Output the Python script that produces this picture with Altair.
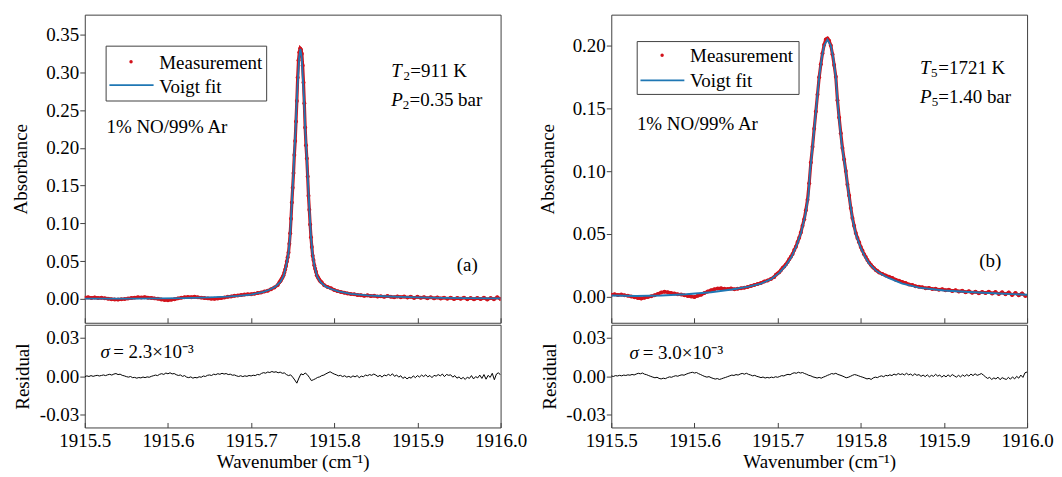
import altair as alt
import pandas as pd

FONT = "'Liberation Serif', 'Times New Roman', Times, serif"
RED = "#d2121b"
BLUE = "#1f77b4"
BOX = "#404040"

X_DOMAIN = [1915.5, 1916.0]
X_TICKS = [1915.5, 1915.6, 1915.7, 1915.8, 1915.9, 1916.0]
ABS_TICKS_A = [0.00, 0.05, 0.10, 0.15, 0.20, 0.25, 0.30, 0.35]
ABS_TICKS_B = [0.00, 0.05, 0.10, 0.15, 0.20]
RES_TICKS = [-0.03, 0.00, 0.03]
ABS_DOMAIN_A = [-0.0317, 0.3764]
ABS_DOMAIN_B = [-0.0207, 0.2247]
RES_DOMAIN = [-0.040, 0.040]

# ---------------- panel (a) ----------------
FIT_A_X = [1915.500, 1915.530, 1915.560, 1915.590, 1915.620, 1915.650, 1915.670, 1915.685,
           1915.700, 1915.714, 1915.722, 1915.729, 1915.735, 1915.739, 1915.742, 1915.745,
           1915.747, 1915.749, 1915.751, 1915.752, 1915.7533, 1915.7548, 1915.7563, 1915.7578,
           1915.7593, 1915.7608, 1915.7623, 1915.7638, 1915.7653, 1915.7666, 1915.7678, 1915.7696,
           1915.7718, 1915.7738, 1915.7763, 1915.7793, 1915.7833, 1915.7893, 1915.7963, 1915.805,
           1915.820, 1915.840, 1915.860, 1915.880, 1915.900, 1915.930, 1915.960, 1916.000]
FIT_A_Y = [0.0004, 0.0002, 0.0003, 0.0006, 0.0010, 0.0018, 0.0028, 0.0040,
           0.0057, 0.0090, 0.0120, 0.0160, 0.0220, 0.0300, 0.0430, 0.0600,
           0.0850, 0.1290, 0.1680, 0.1950, 0.2200, 0.2610, 0.2900, 0.3200,
           0.3310, 0.3200, 0.2900, 0.2610, 0.2200, 0.1950, 0.1680, 0.1290,
           0.0850, 0.0600, 0.0430, 0.0300, 0.0225, 0.0165, 0.0130, 0.0098,
           0.0066, 0.0046, 0.0034, 0.0026, 0.0020, 0.0014, 0.0010, 0.0007]

MEAS_A_LEFT = [0.0015, 0.0020, 0.0012, 0.0018, 0.0010, 0.0014, 0.0008, 0.0002, -0.0004,
               -0.0008, -0.0010, -0.0006, -0.0002, 0.0004, 0.0010, 0.0016, 0.0020, 0.0018,
               0.0022, 0.0015, 0.0012, 0.0006, 0.0001, -0.0008, -0.0014, -0.0018, -0.0012,
               -0.0004, 0.0006, 0.0014, 0.0020, 0.0024, 0.0022, 0.0026, 0.0020, 0.0016,
               0.0010, 0.0006, 0.0002, 0.0000, 0.0004, 0.0010, 0.0018, 0.0026, 0.0032,
               0.0040, 0.0044, 0.0050, 0.0056, 0.0060, 0.0062, 0.0068, 0.0076, 0.0084,
               0.0096, 0.0108, 0.0128, 0.0150, 0.0182]
MEAS_A_CORE = [0.0218, 0.0232, 0.0250, 0.0268, 0.0290, 0.0312, 0.0348, 0.0390, 0.0436, 0.0494,
               0.0552, 0.0615, 0.0728, 0.0868, 0.1060, 0.1275, 0.1470, 0.1665, 0.1905, 0.2090,
               0.2350, 0.2620, 0.2930, 0.3160, 0.3265, 0.3315, 0.3300, 0.3245, 0.3090, 0.2865,
               0.2590, 0.2270, 0.2035, 0.1860, 0.1620, 0.1365, 0.1180, 0.0985, 0.0815, 0.0688,
               0.0572, 0.0514, 0.0446, 0.0398, 0.0360, 0.0312, 0.0292, 0.0274, 0.0254, 0.0236,
               0.0226, 0.0216]
MEAS_A_RIGHT = [0.0180, 0.0156, 0.0140, 0.0118, 0.0102, 0.0090, 0.0082, 0.0072, 0.0064,
                0.0060, 0.0050, 0.0048, 0.0040, 0.0046, 0.0036, 0.0040, 0.0030, 0.0034,
                0.0026, 0.0036, 0.0028, 0.0020, 0.0032, 0.0022, 0.0030, 0.0016, 0.0028,
                0.0012, 0.0026, 0.0014, 0.0022, 0.0008, 0.0020, 0.0006, 0.0018, 0.0004,
                0.0016, 0.0002, 0.0014, -0.0002, 0.0012, 0.0000, 0.0016, -0.0004, 0.0010,
                -0.0006, 0.0012, -0.0002, 0.0014, -0.0008, 0.0010, -0.0004, 0.0020, -0.0002]

# residual (units of 1e-3), sampled every 0.0025 cm-1 from 1915.5
RES_A = [-0.5, 0.2, -0.3, 0.4, -0.2, 0.3, 0.6, 0.1, 0.5, 0.9,
         0.4, 1.0, 1.4, 0.8, 1.6, 2.0, 1.2, 1.5, 0.6, 0.2,
         -0.4, -0.8, -0.3, -1.2, -1.0, -1.6, -1.1, -1.4, -0.7, -1.2,
         -0.6, -0.9, -0.2, 0.3, 0.8, 0.4, 1.4, 1.9, 1.3, 2.4,
         1.8, 2.6, 1.7, 2.0, 1.1, 0.5, 0.9, -0.2, 0.4, -0.8,
         -1.2, -0.6, -1.6, -1.0, -1.4, -0.5, -0.9, 0.1, -0.3, 0.6,
         0.9, 0.5, 1.5, 1.1, 1.9, 1.4, 2.2, 1.6, 2.0, 1.2,
         1.5, 0.7, 0.9, 0.2, -0.3, 0.3, -0.4, 0.2, -0.2, 0.5,
         0.1, 0.7, 0.4, 1.3, 1.0, 2.1, 2.7, 2.3, 3.2, 2.8,
         3.6, 3.0, 3.4, 2.6, 3.1, 2.2, 2.5, 1.2, 0.4, 1.0,
         -0.8, -3.0, -5.5, -1.5, 1.8, 1.0, 2.4, 1.2, -1.0, -3.5,
         -2.8, -2.0, -1.0, -0.6, 0.4, 0.8, 1.8, 2.6, 3.4, 2.4,
         1.6, 1.0, 0.2, 0.6, -0.4, 0.3, -0.8, -0.2, -1.0, 0.2,
         -0.6, 0.4, -1.2, 0.0, -0.5, 0.8, 0.3, 1.2, 0.6, 1.6,
         0.8, -0.4, 0.6, -0.8, 0.9, 0.2, 1.4, 0.4, 1.8, -0.2,
         0.9, -0.8, 0.3, -1.8, -0.6, -2.2, -0.9, -1.6, 0.2, -1.2,
         0.4, -0.7, 0.8, -0.3, 1.0, -0.6, 0.5, -1.2, 0.6, 0.0,
         1.2, 0.2, 1.6, -0.4, 1.3, 0.6, 1.0, -0.8, 0.4, -1.6,
         -0.6, -2.2, -1.0, -2.6, -0.8, -1.8, 0.4, -2.2, -0.4, -1.4,
         0.8, -1.8, 1.2, -2.4, 0.6, -1.0, 2.2, -2.8, 1.6, 2.6,
         0.8]

# ---------------- panel (b) ----------------
FIT_B_X = [1915.500, 1915.530, 1915.560, 1915.590, 1915.620, 1915.645, 1915.665, 1915.680,
           1915.692, 1915.702, 1915.710, 1915.717, 1915.723, 1915.728, 1915.733, 1915.737,
           1915.739, 1915.742, 1915.7464, 1915.750, 1915.753, 1915.756, 1915.760, 1915.764,
           1915.767, 1915.770, 1915.7728, 1915.777, 1915.782, 1915.7855, 1915.790, 1915.794,
           1915.800, 1915.805, 1915.810, 1915.818, 1915.826, 1915.834, 1915.850, 1915.870,
           1915.900, 1915.930, 1915.960, 1916.000]
FIT_B_Y = [0.0010, 0.0006, 0.0010, 0.0020, 0.0036, 0.0058, 0.0080, 0.0105,
           0.0140, 0.0190, 0.0250, 0.0320, 0.0410, 0.0505, 0.0640, 0.0800,
           0.1000, 0.1190, 0.1500, 0.1750, 0.1900, 0.2000, 0.2048, 0.2000,
           0.1900, 0.1750, 0.1500, 0.1220, 0.1000, 0.0820, 0.0620, 0.0500,
           0.0390, 0.0320, 0.0265, 0.0210, 0.0175, 0.0148, 0.0105, 0.0072,
           0.0050, 0.0038, 0.0028, 0.0016]

MEAS_B_LEFT = [0.0016, 0.0020, 0.0014, 0.0018, 0.0012, 0.0008, 0.0002, -0.0004, -0.0010,
               -0.0014, -0.0008, -0.0002, 0.0004, 0.0012, 0.0022, 0.0034, 0.0040, 0.0036,
               0.0030, 0.0026, 0.0020, 0.0018, 0.0012, 0.0006, 0.0002, -0.0002, 0.0008,
               0.0016, 0.0030, 0.0042, 0.0052, 0.0060, 0.0066, 0.0068, 0.0064, 0.0062,
               0.0066, 0.0060, 0.0064, 0.0068, 0.0072, 0.0078, 0.0086, 0.0094, 0.0102,
               0.0110, 0.0122, 0.0130, 0.0142, 0.0158]
MEAS_B_CORE = [0.0176, 0.0186, 0.0196, 0.0212, 0.0230, 0.0242, 0.0258, 0.0276, 0.0298, 0.0318,
               0.0340, 0.0372, 0.0398, 0.0436, 0.0470, 0.0512, 0.0566, 0.0618, 0.0690, 0.0772,
               0.0905, 0.1070, 0.1195, 0.1338, 0.1475, 0.1612, 0.1748, 0.1852, 0.1940, 0.2008,
               0.2050, 0.2058, 0.2040, 0.2002, 0.1932, 0.1846, 0.1752, 0.1565, 0.1428, 0.1302,
               0.1185, 0.1094, 0.1002, 0.0895, 0.0806, 0.0708, 0.0628, 0.0566, 0.0508, 0.0468,
               0.0434, 0.0396, 0.0368, 0.0338, 0.0316, 0.0292, 0.0272, 0.0256, 0.0240, 0.0228,
               0.0214, 0.0206, 0.0194]
MEAS_B_RIGHT = [0.0182, 0.0170, 0.0160, 0.0150, 0.0136, 0.0128, 0.0118, 0.0110, 0.0098,
                0.0094, 0.0084, 0.0080, 0.0076, 0.0068, 0.0070, 0.0062, 0.0064, 0.0056,
                0.0060, 0.0052, 0.0056, 0.0046, 0.0052, 0.0042, 0.0048, 0.0036, 0.0044,
                0.0032, 0.0040, 0.0028, 0.0038, 0.0030, 0.0040, 0.0026, 0.0038, 0.0022,
                0.0036, 0.0020, 0.0034, 0.0014, 0.0030, 0.0012, 0.0026, 0.0006]

RES_B = [0.2, -0.3, 0.4, 0.1, 0.6, 0.2, 0.8, 0.5, 1.0, 0.7,
         1.3, 0.9, 1.6, 2.2, 1.8, 2.4, 1.5, 1.1, 0.4, -0.2,
         -0.8, -1.3, -0.9, -1.8, -2.2, -1.6, -2.0, -1.2, -0.6, -0.9,
         -0.2, 0.3, -0.1, 0.6, 1.0, 0.7, 1.5, 2.1, 2.6, 3.0,
         2.4, 2.8, 1.9, 1.2, 0.4, -0.3, -0.8, -0.4, -1.2, -1.8,
         -2.3, -1.9, -2.6, -2.1, -1.5, -1.0, -0.4, 0.2, 0.8, 0.5,
         1.2, 0.8, 1.6, 2.1, 1.5, 2.2, 1.4, 0.9, 0.2, 0.6,
         -0.2, -0.6, -1.2, -0.7, -1.5, -1.0, -1.4, -0.8, -1.2, -0.5,
         -0.9, -0.3, 0.4, 0.1, 0.9, 1.4, 1.0, 2.0, 2.6, 2.2,
         3.0, 2.4, 2.8, 2.0, 1.4, 0.6, 0.2, -0.6, -1.0, -1.5,
         -1.0, -1.6, -0.8, -0.2, 0.6, 1.2, 2.0, 1.6, 2.2, 1.3,
         0.8, 0.2, -0.5, -1.3, -0.9, -0.2, 0.6, 1.2, 0.8, 0.2,
         -0.4, -0.9, -1.5, -2.2, -1.8, -2.6, -1.4, -0.8, -1.2, -0.3,
         0.2, -0.5, 0.6, 0.2, 1.0, 0.4, 1.6, 0.8, 2.0, 1.2,
         1.8, 0.9, 2.2, 1.0, 1.6, 0.4, 1.8, 0.6, 1.2, -0.2,
         0.8, -0.4, 1.0, -0.6, 0.6, -0.2, 1.4, 0.0, 0.8, -0.8,
         0.6, -0.6, 1.0, -0.4, 1.2, 0.2, -0.8, 0.6, -0.6, 0.9,
         -0.2, 1.2, 0.0, 1.6, 0.4, 1.8, 0.6, 1.2, 2.0, 0.8,
         -0.6, -1.8, -1.0, -2.6, -1.4, -2.2, -0.8, -2.8, -1.2, -2.0,
         -2.6, -1.0, -2.4, -0.6, -2.2, -0.2, -1.6, 0.8, -1.0, 2.6,
         3.2]

W = 417
H_TOP = 309
H_RES = 103
SPACING = 10


def sampled(segments):
    rows = []
    for x0, step, vals in segments:
        for i, v in enumerate(vals):
            rows.append({"x": round(x0 + i * step, 4), "y": v})
    return pd.DataFrame(rows)


def residual_df(vals):
    return pd.DataFrame({"x": [round(1915.5 + i * 0.0025, 4) for i in range(len(vals))],
                         "y": [v / 1000.0 for v in vals]})


def one_row():
    return alt.Data(values=[{"k": 0}])


def txt(s, px, py, size=19, italic=False):
    return alt.Chart(one_row()).mark_text(
        text=s, font=FONT, fontSize=size, fontStyle="italic" if italic else "normal",
        align="left", baseline="middle", color="black"
    ).encode(x=alt.value(px), y=alt.value(py))


def legend(box, dot, line, tx, ty1, ty2):
    rect = alt.Chart(one_row()).mark_rect(fill="white", stroke=BOX, strokeWidth=1).encode(
        x=alt.value(box[0]), x2=alt.value(box[1]), y=alt.value(box[2]), y2=alt.value(box[3]))
    pt = alt.Chart(one_row()).mark_circle(color=RED, size=12, opacity=1).encode(
        x=alt.value(dot[0]), y=alt.value(dot[1]))
    ln = alt.Chart(one_row()).mark_rule(color=BLUE, strokeWidth=1.8).encode(
        x=alt.value(line[0]), x2=alt.value(line[1]), y=alt.value(line[2]))
    return [rect, pt, ln, txt("Measurement", tx, ty1), txt("Voigt fit", tx, ty2)]


def panel(fit_df, meas_df, res_df, ydom, yticks, leg_layers, notes, sigma_layers):
    xscale = alt.Scale(domain=X_DOMAIN, nice=False, zero=False)
    x_top = alt.X("x:Q", scale=xscale,
                  axis=alt.Axis(values=X_TICKS, labels=False, ticks=True, tickSize=5, offset=-5,
                                domain=False, grid=False, title=None))
    y_top = alt.Y("y:Q", scale=alt.Scale(domain=ydom, nice=False, zero=False),
                  axis=alt.Axis(values=yticks, format=".2f", tickSize=5, domain=False, grid=False,
                                labelPadding=1, title="Absorbance", titlePadding=15))
    meas_line = alt.Chart(meas_df).mark_line(color=RED, strokeWidth=3.2, clip=True).encode(x=x_top, y=y_top)
    meas_pts = alt.Chart(meas_df).mark_circle(color=RED, size=16, opacity=1, clip=True).encode(x=x_top, y=y_top)
    fit_line = alt.Chart(fit_df).mark_line(color=BLUE, strokeWidth=1.8, clip=True).encode(x=x_top, y=y_top)
    top = alt.layer(meas_line, meas_pts, fit_line, *leg_layers, *notes).properties(width=W, height=H_TOP)

    x_res = alt.X("x:Q", scale=xscale,
                  axis=alt.Axis(values=X_TICKS, format=".1f", labelFlush=False, tickSize=5, offset=-5,
                                domain=False, grid=False, labelPadding=4,
                                title="Wavenumber (cm\u207b\u00b9)", titlePadding=2))
    y_res = alt.Y("y:Q", scale=alt.Scale(domain=RES_DOMAIN, nice=False, zero=False),
                  axis=alt.Axis(values=RES_TICKS,
                                labelExpr="datum.value < 0 ? '-' + format(-datum.value, '.2f') : format(datum.value, '.2f')",
                                tickSize=5, domain=False, grid=False, labelPadding=1,
                                title="Residual", titlePadding=6.5))
    res_line = alt.Chart(res_df).mark_line(color="black", strokeWidth=1, clip=True).encode(x=x_res, y=y_res)
    bottom = alt.layer(res_line, *sigma_layers).properties(width=W, height=H_RES)
    return alt.vconcat(top, bottom, spacing=0)


fit_a = pd.DataFrame({"x": FIT_A_X, "y": FIT_A_Y})
meas_a = sampled([(1915.500, 0.004, MEAS_A_LEFT), (1915.734, 0.001, MEAS_A_CORE),
                  (1915.788, 0.004, MEAS_A_RIGHT)])
res_a = residual_df(RES_A)

fit_b = pd.DataFrame({"x": FIT_B_X, "y": FIT_B_Y})
meas_b = sampled([(1915.500, 0.004, MEAS_B_LEFT), (1915.698, 0.002, MEAS_B_CORE),
                  (1915.826, 0.004, MEAS_B_RIGHT)])
res_b = residual_df(RES_B)

notes_a = [
    txt("T", 307.3, 56.6, italic=True), txt("2", 319.7, 61.6, size=13), txt("=911 K", 326.4, 56.6),
    txt("P", 307.3, 85.6, italic=True), txt("2", 319.0, 90.6, size=13), txt("=0.35 bar", 325.7, 85.6),
    txt("1% NO/99% Ar", 21.7, 112.3),
    txt("(a)", 373, 250.6),
]
notes_b = [
    txt("T", 309.7, 53.4, italic=True), txt("5", 320.7, 58.4, size=13), txt("=1721 K", 328.0, 53.4),
    txt("P", 309.7, 82.4, italic=True), txt("5", 321.3, 87.4, size=13), txt("=1.40 bar", 328.0, 82.4),
    txt("1% NO/99% Ar", 25.7, 110.0),
    txt("(b)", 369, 246.7),
]
leg_a = legend((21.4, 182.4, 31.6, 86.6), (46.4, 47.3), (24.7, 69.0, 70.6), 74.7, 48.3, 72.3)
leg_b = legend((26.0, 188.3, 27.0, 80.0), (51.0, 40.7), (29.3, 73.3, 66.0), 79.0, 41.0, 66.7)

sig_a = [txt("\u03c3", 15.7, 27.6, italic=True), txt("= 2.3\u00d710\u207b\u00b3", 28.5, 27.6)]
sig_b = [txt("\u03c3", 18.3, 28.3, italic=True), txt("= 3.0\u00d710\u207b\u00b3", 31.5, 28.3)]

pa = panel(fit_a, meas_a, res_a, ABS_DOMAIN_A, ABS_TICKS_A, leg_a, notes_a, sig_a)
pb = panel(fit_b, meas_b, res_b, ABS_DOMAIN_B, ABS_TICKS_B, leg_b, notes_b, sig_b)

chart = alt.hconcat(pa, pb, spacing=SPACING).properties(
    padding={"left": 3, "top": 5, "right": 0, "bottom": 0}
).configure_view(stroke=BOX, strokeWidth=1).configure_axis(
    labelFont=FONT, titleFont=FONT, labelFontSize=19, titleFontSize=19,
    titleFontWeight="normal", labelColor="black", titleColor="black",
    tickColor=BOX, tickWidth=1
)

chart.save("out.html", embed_options={"renderer": "svg", "actions": False})
